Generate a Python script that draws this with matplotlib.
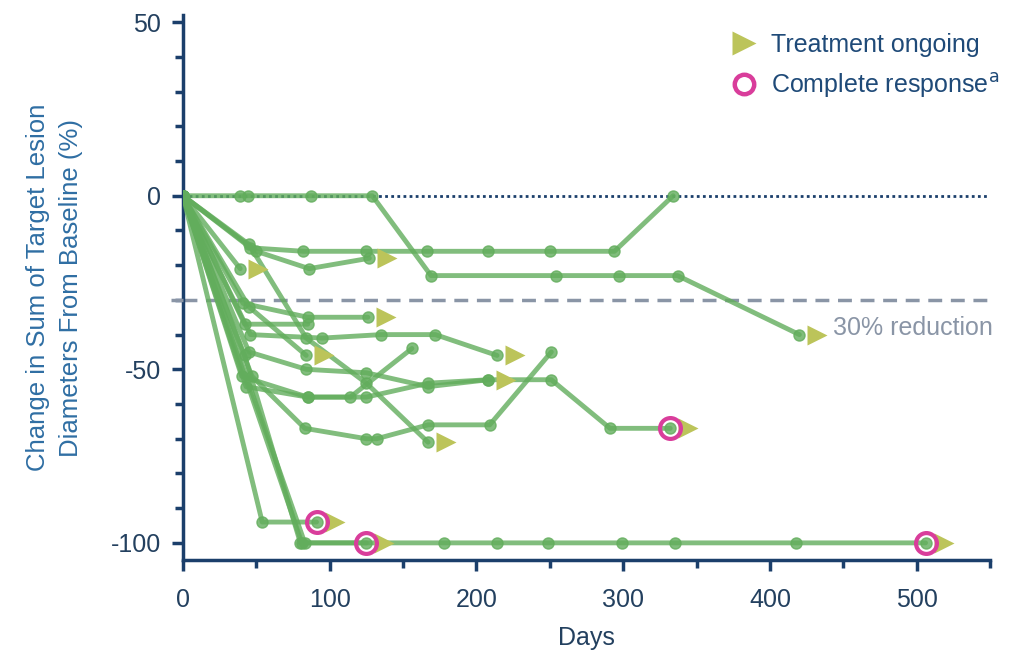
import matplotlib
matplotlib.use("Agg")
import matplotlib.pyplot as plt
from matplotlib.lines import Line2D
from matplotlib.transforms import offset_copy

plt.rcParams["font.family"] = ["Liberation Sans", "DejaVu Sans"]
plt.rcParams["axes.unicode_minus"] = False

# days on study and % change per patient
days = [
    [0, 39, 44, 87, 129, 169, 254, 297, 337, 420],
    [0, 46, 82, 125, 166, 208, 250, 294, 334],
    [0, 39],
    [0, 50, 86, 127],
    [0, 41, 85, 126],
    [0, 42, 85],
    [0, 46, 95, 135, 172, 214],
    [0, 45, 84],
    [0, 47, 83, 125, 132, 167, 209, 251],
    [0, 43, 85, 125, 167, 208],
    [0, 45, 84, 125, 167, 208, 251, 291, 332],
    [0, 45, 84, 125, 167],
    [0, 40, 85, 114, 156],
    [0, 54, 91],
    [0, 83, 125],
    [0, 81, 178, 214, 249, 299, 335, 418, 506],
    [0, 42, 80],
]
pct = [
    [0, 0, 0, 0, 0, -23, -23, -23, -23, -40],
    [0, -15, -16, -16, -16, -16, -16, -16, 0],
    [0, -21],
    [0, -16, -21, -18],
    [0, -31, -35, -35],
    [0, -37, -37],
    [0, -40, -41, -40, -40, -46],
    [0, -32, -46],
    [0, -52, -67, -70, -70, -66, -66, -45],
    [0, -55, -58, -58, -54, -53],
    [0, -45, -50, -51, -55, -53, -53, -67, -67],
    [0, -14, -41, -54, -71],
    [0, -52, -58, -58, -44],
    [0, -94, -94],
    [0, -100, -100],
    [0, -100, -100, -100, -100, -100, -100, -100, -100],
    [0, -46, -100],
]
ongoing = [True, False, True, True, True, False, True, True, False, True,
           True, True, False, True, True, True, False]
complete = [False, False, False, False, False, False, False, False, False, False,
            True, False, False, True, True, True, False]

green = "#62ad5c"
navy = "#1b3f6b"
olive = "#bcc45a"
magenta = "#d93d9b"
gray = "#8a95a6"
txt = "#23405f"
narrow = ["Liberation Sans Narrow", "Liberation Sans"]

fig = plt.figure(figsize=(10.25, 6.63), dpi=100)
ax = fig.add_axes([0.1785, 0.155, 0.7875, 0.822])

ax.axhline(0, color=navy, lw=2, ls=(0, (1, 1.2)), zorder=1)
ax.axhline(-30, color=gray, lw=2.5, ls=(0, (4, 2.5)), zorder=1)
ax.plot(0, -30, marker=0, ms=9, mew=2.5, color=gray, clip_on=False, zorder=6)

shift = offset_copy(ax.transData, fig=fig, x=18, y=0, units="dots")
for d, p, og, cr in zip(days, pct, ongoing, complete):
    ax.plot(d, p, color=green, lw=3.5, alpha=0.8, marker="o", ms=8,
            solid_capstyle="round", zorder=3)
    if cr:
        ax.plot(d[-1], p[-1], marker="o", ms=15, mfc="none", mec=magenta,
                mew=3, zorder=5)
    if og:
        ax.plot(d[-1], p[-1], marker=">", ms=14, color=olive, mec="none",
                transform=shift, zorder=4)

ax.text(443, -38, "30% reduction", color=gray, fontsize=18, va="center")

ax.set_xlim(0, 550)
ax.set_ylim(-105, 52)
ax.set_xticks([0, 100, 200, 300, 400, 500])
ax.set_xticks([50, 150, 250, 350, 450, 550], minor=True)
ax.set_yticks([-100, -50, 0, 50])
ax.set_yticks(range(-90, 50, 10), minor=True)

for s in ["top", "right"]:
    ax.spines[s].set_visible(False)
for s in ["left", "bottom"]:
    ax.spines[s].set_color(navy)
    ax.spines[s].set_linewidth(2.5)
ax.tick_params(which="both", direction="out", color=navy, width=2.5,
               labelsize=18, labelcolor=txt)
ax.tick_params(which="major", length=8)
ax.tick_params(which="minor", length=6)
ax.tick_params(axis="y", pad=8)
ax.tick_params(axis="x", pad=12)

ax.set_xlabel("Days", fontsize=18, color=txt, labelpad=10)
ax.set_ylabel("Change in Sum of Target Lesion\nDiameters From Baseline (%)",
              fontsize=18.5, color="#2f6ea3", labelpad=20, linespacing=1.45,
              family=narrow)

handles = [
    Line2D([], [], ls="none", marker=">", ms=17, color=olive, mec="none"),
    Line2D([], [], ls="none", marker="o", ms=14, mfc="none", mec=magenta, mew=3.2),
]
ax.legend(handles, ["Treatment ongoing", r"Complete response$^{\mathrm{a}}$"],
          loc="upper right", bbox_to_anchor=(1.03, 0.995), frameon=False,
          prop={"family": narrow, "size": 18},
          handletextpad=0.1, labelspacing=0.55, borderaxespad=0.2,
          labelcolor="#1f4a78")

fig.savefig("out.png", dpi=100)
